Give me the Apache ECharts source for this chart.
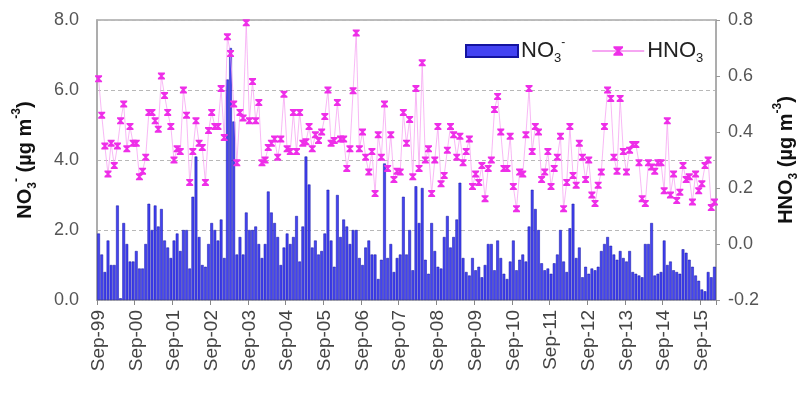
<!DOCTYPE html>
<html>
<head>
<meta charset="utf-8">
<script src="https://cdn.jsdelivr.net/npm/echarts@6/dist/echarts.min.js"></script>
<style>
  html, body { margin: 0; padding: 0; background: #ffffff; }
  #chart { width: 808px; height: 396px; }
</style>
</head>
<body>
<div id="chart"></div>
<script>
// ---- Data (monthly, Sep-1999 .. Jan-2016) ----
const startYear = 1999;
const startMonth = 8; // September (0-based)
const monthNames = ['Jan','Feb','Mar','Apr','May','Jun','Jul','Aug','Sep','Oct','Nov','Dec'];

// NO3- (µg m-3), left axis
const no3_1999_2005 = [
  1.9, 1.3, 0.8, 1.7, 1.0, 1.0, 2.7, 0.05, 2.2, 1.6, 1.1, 1.1, 1.4, 0.9, 0.9, 1.6, 2.75, 2.0, 2.7, 2.1,
  2.6, 1.7, 1.5, 1.2, 1.7, 1.9, 1.4, 2.0, 2.0, 0.9, 2.95, 4.1, 1.8, 1.0,
  0.95, 1.6, 2.2, 2.0, 1.7, 2.3, 1.2, 6.3, 7.2, 5.1, 1.3, 1.8, 1.3, 2.5, 2.0, 2.0,
  2.1, 1.6, 1.2, 1.6, 3.1, 2.5, 2.2, 1.8, 1.0, 1.5, 1.9, 1.6, 1.8, 2.4, 1.1, 2.1
];
const no3_2005_2011 = [
  4.1, 3.3, 1.5, 1.7, 1.3, 1.4, 1.9, 3.15, 1.7, 0.95, 3.0, 1.8, 2.3, 2.1, 1.6, 2.0, 2.0, 1.2, 1.0, 1.5,
  1.7, 1.3, 1.3, 0.6, 1.15, 3.9,
  1.2, 1.6, 0.8, 1.2, 1.3, 2.95, 1.3, 2.0, 0.85, 3.25, 2.2, 3.2,
  1.15, 0.75, 2.2, 1.4, 0.95, 0.9, 1.8, 2.4, 1.5, 1.8, 2.3, 3.35, 1.2, 0.8, 0.7, 1.2, 0.85, 0.95, 0.65, 1.0,
  1.6, 1.6, 0.85, 1.7, 1.2, 0.75, 0.6, 1.1, 1.7, 0.85, 1.15, 1.3, 1.1
];
const no3_2011_2016 = [
  2.1, 3.15, 2.6, 2.0, 1.05, 0.85, 0.9, 0.75, 1.05, 1.3, 2.0, 1.1, 0.8, 2.05, 2.75, 1.2, 1.5, 0.65, 0.95, 0.75,
  0.9, 0.85, 0.95, 1.4, 1.6, 1.8, 1.55, 1.3, 1.15, 1.4,
  1.2, 1.1, 1.4, 0.8, 0.75, 0.7, 0.65, 1.6, 1.6, 2.2, 0.7, 0.75, 0.8, 1.7, 1.0, 1.1, 0.85, 0.8, 0.75, 1.45,
  1.35, 1.15, 0.95, 0.7, 0.55, 0.3, 0.25, 0.8, 0.65, 0.95
];

// HNO3 (µg m-3), right axis
const hno3_1999_2005 = [
  0.59, 0.46, 0.35, 0.25, 0.36, 0.28, 0.35, 0.44, 0.50, 0.34, 0.42, 0.36, 0.36, 0.24, 0.26, 0.31, 0.47, 0.47, 0.44, 0.41,
  0.60, 0.53, 0.47, 0.42, 0.30, 0.34, 0.33, 0.55, 0.46, 0.22, 0.33, 0.44,
  0.36, 0.345, 0.22,
  0.405, 0.47, 0.42, 0.42, 0.555, 0.38, 0.74, 0.68, 0.50, 0.29, 0.47, 0.45, 0.79, 0.44, 0.58, 0.44, 0.505, 0.29, 0.30, 0.345,
  0.36, 0.375, 0.31, 0.375, 0.535, 0.34, 0.33, 0.47, 0.33, 0.47, 0.36, 0.365, 0.42, 0.34
];
const hno3_2005_2011 = [
  0.39, 0.37, 0.40, 0.455, 0.55, 0.36, 0.37, 0.505, 0.375, 0.375, 0.27, 0.34, 0.547, 0.754, 0.34, 0.40, 0.31, 0.257, 0.33, 0.18,
  0.39, 0.31, 0.50, 0.27, 0.39, 0.23, 0.26, 0.257, 0.47, 0.36, 0.445, 0.24, 0.555, 0.27, 0.647,
  0.30, 0.34, 0.18, 0.30, 0.42, 0.215, 0.245, 0.335, 0.42, 0.39, 0.31, 0.385, 0.29, 0.33, 0.375, 0.205, 0.25, 0.22, 0.28, 0.162,
  0.27, 0.30, 0.48, 0.527, 0.40, 0.27, 0.27, 0.385, 0.205, 0.126, 0.257, 0.25, 0.39, 0.555, 0.33
];
const hno3_2011_2016 = [
  0.42, 0.40, 0.23, 0.257, 0.33, 0.205, 0.27, 0.31, 0.385, 0.126, 0.22, 0.42, 0.245, 0.21, 0.36, 0.31, 0.23, 0.30, 0.175, 0.145,
  0.21, 0.257, 0.42, 0.55, 0.52, 0.31, 0.26,
  0.52, 0.33, 0.257, 0.335, 0.355, 0.355, 0.29, 0.162, 0.145, 0.29, 0.275, 0.26, 0.29, 0.29, 0.19, 0.44, 0.175, 0.25, 0.155, 0.185,
  0.28, 0.23, 0.24, 0.15, 0.25, 0.19, 0.215, 0.28, 0.30, 0.13, 0.15
];

const leftTicks = [0, 2, 4, 6, 8];
const rightTicks = [-0.2, 0, 0.2, 0.4, 0.6, 0.8];

const no3 = no3_1999_2005.concat(no3_2005_2011, no3_2011_2016);
const hno3 = hno3_1999_2005.concat(hno3_2005_2011, hno3_2011_2016);

const categories = no3.map((_, i) => {
  const m = (startMonth + i) % 12;
  const y = startYear + Math.floor((startMonth + i) / 12);
  return monthNames[m] + '-' + String(y % 100).padStart(2, '0');
});

const FONT = 'Liberation Sans, Arial, sans-serif';
const nameRich = {
  b:   { fontSize: 20, fontWeight: 'bold', color: '#111', fontFamily: FONT, lineHeight: 28, verticalAlign: 'middle' },
  sub: { fontSize: 12, fontWeight: 'bold', color: '#111', fontFamily: FONT, lineHeight: 12, verticalAlign: 'bottom' },
  sup: { fontSize: 12, fontWeight: 'bold', color: '#111', fontFamily: FONT, lineHeight: 12, verticalAlign: 'top' }
};
const legRich = {
  a:   { fontSize: 22, color: '#222', fontFamily: FONT, lineHeight: 28, verticalAlign: 'middle' },
  sub: { fontSize: 13, color: '#222', fontFamily: FONT, lineHeight: 12, verticalAlign: 'bottom' },
  sup: { fontSize: 12, color: '#222', fontFamily: FONT, lineHeight: 12, verticalAlign: 'top' }
};

const hourglass = 'path://M0,0L10,0L10,2L6.5,5L10,8L10,10L0,10L0,8L3.5,5L0,2Z';

const chart = echarts.init(document.getElementById('chart'), null, { renderer: 'canvas' });
chart.setOption({
  animation: false,
  backgroundColor: '#ffffff',
  grid: {
    left: 97, right: 79, top: 20, bottom: 96,
    show: true, borderColor: '#a8a8a8', borderWidth: 1.5, backgroundColor: 'transparent'
  },
  legend: {
    left: 460, top: 32,
    itemWidth: 52, itemHeight: 12, itemGap: 26,
    data: [
      { name: 'NO3', icon: 'rect' },
      { name: 'HNO3' }
    ],
    formatter: function (name) {
      return name === 'NO3' ? '{a|NO}{sub|3}{sup|-}' : '{a|HNO}{sub|3}';
    },
    textStyle: { rich: legRich, padding: [0, 0, 0, -2] }
  },
  xAxis: {
    type: 'category',
    data: categories,
    boundaryGap: true,
    axisLine: { show: true, lineStyle: { color: '#a8a8a8', width: 1.5 } },
    axisTick: {
      show: true, length: 5, inside: false,
      interval: function (index) { return index % 12 === 0; },
      lineStyle: { color: '#888' }
    },
    axisLabel: {
      interval: function (index) { return index % 12 === 0; },
      rotate: 90, margin: 10,
      fontSize: 19, color: '#444', fontFamily: FONT
    },
    splitLine: { show: false }
  },
  yAxis: [
    {
      type: 'value', min: 0, max: 8, interval: 2, position: 'left',
      name: '{b|NO}{sub|3}{sup|-}{b| (µg m}{sup|-3}{b|)}',
      nameLocation: 'middle', nameRotate: 90, nameGap: 58,
      nameTextStyle: { rich: nameRich },
      axisLine: { show: true, lineStyle: { color: '#a8a8a8', width: 1.5 } },
      axisTick: { show: false },
      axisLabel: {
        fontSize: 18, color: '#555', fontFamily: FONT, margin: 18,
        formatter: function (v) { return leftTicks.indexOf(v) >= 0 ? v.toFixed(1) : ''; }
      },
      splitLine: { show: true, lineStyle: { color: '#b8b8b8', type: [4, 3], width: 1 } }
    },
    {
      type: 'value', min: -0.2, max: 0.8, interval: 0.2, position: 'right',
      name: '{b|HNO}{sub|3}{b| (µg m}{sup|-3}{b|)}',
      nameLocation: 'middle', nameRotate: 90, nameGap: 56,
      nameTextStyle: { rich: nameRich },
      axisLine: { show: true, lineStyle: { color: '#a8a8a8', width: 1.5 } },
      axisTick: { show: true, inside: false, length: 4, lineStyle: { color: '#999' } },
      axisLabel: {
        fontSize: 18, color: '#555', fontFamily: FONT, margin: 12,
        formatter: function (v) {
          const r = Math.round(v * 10) / 10;
          return rightTicks.some(t => Math.abs(t - r) < 1e-9) ? r.toFixed(1) : '';
        }
      },
      splitLine: { show: false }
    }
  ],
  series: [
    {
      name: 'NO3',
      type: 'bar',
      yAxisIndex: 0,
      data: no3,
      barCategoryGap: '12%',
      itemStyle: { color: '#4343f2', borderColor: '#1414a0', borderWidth: 0.5 }
    },
    {
      name: 'HNO3',
      type: 'line',
      yAxisIndex: 1,
      data: hno3,
      symbol: hourglass,
      symbolSize: [7, 7],
      showAllSymbol: true,
      lineStyle: { color: '#f6a6f2', width: 0.8 },
      itemStyle: { color: '#ee2fe8' },
      z: 3
    }
  ]
});
</script>
</body>
</html>
